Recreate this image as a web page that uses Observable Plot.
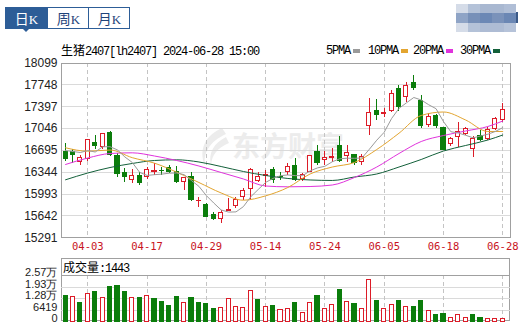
<!DOCTYPE html>
<html><head><meta charset="utf-8">
<script src="https://cdn.jsdelivr.net/npm/d3@7"></script>
<script src="https://cdn.jsdelivr.net/npm/@observablehq/plot@0.6"></script>
<style>
body{margin:0;background:#fff;}
#wrap{position:relative;width:520px;height:327px;overflow:hidden;background:#fff;font-family:"Liberation Sans",Arial,sans-serif;}
.abs{position:absolute;}
.mono{font-family:"Liberation Mono","DejaVu Sans Mono",monospace;font-size:12px;letter-spacing:-1.2px;line-height:14px;white-space:pre;color:#000;}
.cjk{font-family:"Noto Sans CJK SC",sans-serif;letter-spacing:0;font-size:12px;}
.tab{position:absolute;top:0;height:20px;width:41px;text-align:center;line-height:20px;font-size:14px;font-family:"Noto Sans CJK SC",sans-serif;color:#1f437a;}
.tab b{font-family:"Liberation Serif",serif;font-weight:normal;font-size:13px;}
.sw{position:absolute;height:4px;width:7px;}
</style></head>
<body>
<div id="wrap">
  <!-- watermark -->
  <svg class="abs" style="left:196px;top:127px" width="34" height="40" viewBox="0 0 34 40">
    <path d="M26 1 C10 8 2 22 9 39 C7 26 13 15 30 7 Z" fill="#ececec"/>
    <path d="M30 10 C18 16 12 26 15 38 C16 28 21 21 33 16 Z" fill="#ececec"/>
  </svg>
  <div class="abs" style="left:232px;top:128px;font:bold 28px 'Noto Sans CJK SC',sans-serif;color:#ececec;line-height:34px;letter-spacing:0px;">东方财富</div>

  <div id="main" class="abs" style="left:0;top:0"></div>
  <div class="abs" style="left:61px;top:258px;width:449px;height:63px;border:1px solid #a0a0a0;box-sizing:border-box;"></div>
  <div id="vol" class="abs" style="left:0;top:255px"></div>

  <!-- tabs -->
  <div class="abs" style="left:5px;top:7px;width:123px;height:20px;border:1px solid #2d5d97;box-sizing:content-box;">
    <div class="tab" style="left:0;background:#2d5d97;color:#fff;">日<b>K</b></div>
    <div class="tab" style="left:41px;border-left:1px solid #2d5d97;">周<b>K</b></div>
    <div class="tab" style="left:82px;border-left:1px solid #2d5d97;">月<b>K</b></div>
  </div>
  <div class="abs" style="left:22px;top:28px;width:0;height:0;border-left:4px solid transparent;border-right:4px solid transparent;border-top:4px solid #2d5d97;"></div>

  <!-- blurred logo -->
  <div class="abs" id="blur" style="left:456px;top:4px;width:60px;height:28px;"></div>
  <div class="abs" style="left:516px;top:12px;width:2px;height:11px;background:#3c5a88;"></div>

  <div class="abs mono" style="left:61px;top:43px;"><span class="cjk">生猪</span>2407[lh2407] 2024-06-28 15:00</div>
  <div id="legend"></div>
  <div class="abs mono" style="left:63px;top:260px;"><span class="cjk">成交量</span>:1443</div>
</div>
<script>
const dates = ["03-29","04-01","04-02","04-03","04-08","04-09","04-10","04-11","04-12","04-15","04-16","04-17","04-18","04-19","04-22","04-23","04-24","04-25","04-26","04-29","04-30","05-06","05-07","05-08","05-09","05-10","05-13","05-14","05-15","05-16","05-17","05-20","05-21","05-22","05-23","05-24","05-27","05-28","05-29","05-30","05-31","06-03","06-04","06-05","06-06","06-07","06-11","06-12","06-13","06-14","06-17","06-18","06-19","06-20","06-21","06-24","06-25","06-26","06-27","06-28"];
const tickDates = ["04-03","04-17","04-29","05-14","05-24","06-05","06-18","06-28"];
const open  = [16675,16675,16510,16555,16815,16745,16980,16600,16330,16225,16290,16275,16350,16370,16415,16355,16190,16275,15875,15825,15665,15585,15715,15800,15945,16080,16210,16285,16385,16275,16340,16450,16235,16355,16670,16540,16580,16770,16610,16615,16510,17090,17320,17280,17330,17675,17560,17775,17490,17105,17240,17055,16805,16915,16965,16720,16925,16880,17035,17180];
const high  = [16800,16710,16620,16865,16940,16970,17000,16640,16400,16385,16345,16425,16490,16425,16450,16430,16265,16340,15945,15840,15700,15730,15915,15945,16080,16405,16345,16365,16425,16345,16480,16565,16330,16620,16775,16675,16725,16920,16780,16630,16630,17530,17520,17365,17655,17730,17785,17900,17575,17290,17275,17065,16910,17150,17065,16920,17010,17065,17225,17455];
const low   = [16520,16485,16445,16510,16705,16705,16595,16265,16185,16170,16125,16225,16290,16290,16320,16160,16050,15880,15785,15610,15570,15520,15710,15755,15890,15905,16185,16105,16160,16210,16290,16200,16190,16350,16450,16450,16500,16500,16500,16460,16460,16935,17180,17225,17305,17320,17465,17650,17045,17065,17045,16690,16750,16745,16930,16580,16840,16850,17015,17140];
const close = [16550,16615,16575,16855,16760,16960,16625,16320,16275,16290,16170,16385,16370,16360,16350,16185,16250,15900,15890,15620,15585,15695,15730,15905,16050,16375,16275,16300,16225,16265,16435,16225,16300,16610,16500,16565,16595,16530,16660,16495,16590,17290,17265,17295,17600,17400,17735,17695,17090,17225,17080,16705,16880,16985,17040,16880,16855,17025,17200,17345];
const volume = [14510,13950,10600,15460,16190,12840,18980,19540,16190,13230,12840,14340,12450,11160,8930,13400,10440,12840,10210,9490,6700,7650,12280,8210,7810,16750,11890,8370,8930,6140,7090,10440,4860,10440,14510,7090,9320,17860,11160,9880,7090,23440,11720,7090,9320,11720,8370,8370,11720,5970,3350,3910,2230,3740,2230,3350,1840,1200,1300,1443];
const ma5 = [16693,16677,16661,16693,16669,16753,16754,16703,16590,16501,16342,16293,16305,16314,16329,16332,16305,16210,16117,15969,15850,15738,15704,15707,15792,15951,16067,16181,16245,16289,16301,16290,16290,16366,16414,16440,16513,16560,16570,16568,16574,16713,16859,16986,17207,17370,17458,17545,17505,17429,17365,17159,16995,16975,16938,16897,16926,16955,16999,17060];
const maDays = [0,3,6,9,12,15,18,21,24,27,30,33,36,39,42,45,48,51,54,57,59];
const ma10 = [16737,16682,16701,16578,16490,16345,16179,16011,15895,15965,16099,16316,16428,16501,16709,16971,17256,17312,17183,16999,16999];
const ma20 = [16469,16573,16645,16656,16605,16533,16444,16340,16236,16123,16110,16115,16139,16260,16428,16645,16838,16934,17007,17079,17167];
const ma30 = [16223,16332,16420,16485,16533,16544,16509,16436,16356,16292,16244,16220,16212,16268,16316,16428,16549,16685,16774,16862,16942];
const priceTicks = [15291,15642,15993,16344,16695,17046,17397,17748,18099];
const volTicks = [0,6419,12838,19257,25676];
const volLabels = ["0","6419","1.28万","1.93万","2.57万"];
const legendNames = ["5PMA","10PMA","20PMA","30PMA"];

const RED = "#dc1c28", GREEN = "#0b7d0b";
const MA_COLORS = ["#9a9a9a","#e3a530","#e033dc","#13603a"];
const idx = d3.range(dates.length);
const tickIdx = tickDates.map(d => dates.indexOf(d));
const cand = idx.map(i => ({i, o: open[i], h: high[i], l: low[i], c: close[i]}));
const upC = cand.filter(d => d.c >= d.o), dnC = cand.filter(d => d.c < d.o);
const bw = 0.28;
const xDom = [-0.55, 60.05];
const maLine = (arr, days) => arr.map((v, k) => ({i: days ? days[k] : k, v}));

const main = Plot.plot({
  width: 520, height: 255,
  marginLeft: 61, marginRight: 10, marginTop: 62.5, marginBottom: 17.7,
  x: {type: "linear", domain: xDom, axis: null, label: null},
  y: {domain: [15291, 18099], axis: null, label: null},
  style: {background: "transparent", overflow: "visible"},
  marks: [
    Plot.ruleY(priceTicks, {stroke: "#dadada", shapeRendering: "crispEdges"}),
    Plot.ruleX(tickIdx, {stroke: "#c4c4c4", strokeDasharray: "4,3", shapeRendering: "crispEdges"}),
    Plot.ruleX(upC, {x: "i", y1: "l", y2: "h", stroke: RED, shapeRendering: "crispEdges"}),
    Plot.ruleX(dnC, {x: "i", y1: "l", y2: "h", stroke: GREEN, shapeRendering: "crispEdges"}),
    Plot.rect(upC, {x1: d => d.i - bw, x2: d => d.i + bw, y1: "o", y2: "c", fill: "white", stroke: RED, shapeRendering: "crispEdges"}),
    Plot.rect(dnC, {x1: d => d.i - bw, x2: d => d.i + bw, y1: "o", y2: "c", fill: GREEN, stroke: GREEN, shapeRendering: "crispEdges"}),
    Plot.line(maLine(ma30, maDays), {x: "i", y: "v", stroke: MA_COLORS[3], strokeWidth: 1, curve: "monotone-x"}),
    Plot.line(maLine(ma20, maDays), {x: "i", y: "v", stroke: MA_COLORS[2], strokeWidth: 1, curve: "monotone-x"}),
    Plot.line(maLine(ma10, maDays), {x: "i", y: "v", stroke: MA_COLORS[1], strokeWidth: 1, curve: "monotone-x"}),
    Plot.line(maLine(ma5), {x: "i", y: "v", stroke: MA_COLORS[0], strokeWidth: 1}),
    Plot.frame({stroke: "#a0a0a0", shapeRendering: "crispEdges"}),
    Plot.axisY(priceTicks, {label: null, tickSize: 0, tickPadding: 4, fontSize: 12, fontFamily: "'Liberation Sans',Arial,sans-serif", fill: "#222", tickFormat: d => String(d)}),
    Plot.axisX(tickIdx, {label: null, tickSize: 0, tickPadding: 5, fontSize: 10.5, fontFamily: "'DejaVu Sans Mono',monospace", fill: "#c8141e", tickFormat: d => dates[d]})
  ]
});
document.getElementById("main").appendChild(main);

const volUp = idx.map(i => i === 0 ? close[0] >= open[0] : close[i] >= close[i - 1]);
const vUp = idx.filter(i => volUp[i]), vDn = idx.filter(i => !volUp[i]);
const vol = Plot.plot({
  width: 520, height: 72,
  marginLeft: 61, marginRight: 10, marginTop: 20, marginBottom: 6,
  x: {type: "linear", domain: xDom, axis: null, label: null},
  y: {domain: [0, 25676], axis: null, label: null},
  style: {background: "transparent", overflow: "visible"},
  marks: [
    Plot.ruleY(volTicks.slice(1, 4), {stroke: "#dadada", shapeRendering: "crispEdges"}),
    Plot.ruleX(tickIdx, {stroke: "#c4c4c4", strokeDasharray: "4,3", shapeRendering: "crispEdges"}),
    Plot.ruleY([25676], {stroke: "#a0a0a0", shapeRendering: "crispEdges"}),
    Plot.rect(vUp, {x1: i => i - bw, x2: i => i + bw, y1: 0, y2: i => volume[i], fill: "white", stroke: RED, shapeRendering: "crispEdges"}),
    Plot.rect(vDn, {x1: i => i - bw, x2: i => i + bw, y1: 0, y2: i => volume[i], fill: GREEN, stroke: GREEN, shapeRendering: "crispEdges"}),
    Plot.axisY(volTicks, {label: null, tickSize: 0, tickPadding: 4, dy: -3, fontSize: 11, fontFamily: "'Liberation Sans',Arial,sans-serif", fill: "#222", tickFormat: d => volLabels[volTicks.indexOf(d)]})
  ]
});
document.getElementById("vol").appendChild(vol);

// legend
const legX = [326, 368, 413, 460];
const leg = document.getElementById("legend");
legendNames.forEach((n, k) => {
  const t = document.createElement("div");
  t.className = "abs mono"; t.style.left = legX[k] + "px"; t.style.top = "44px"; t.textContent = n;
  leg.appendChild(t);
  const s = document.createElement("div");
  s.className = "sw"; s.style.left = (legX[k] + n.length * 6 + 3) + "px"; s.style.top = "49px"; s.style.background = MA_COLORS[k];
  leg.appendChild(s);
});

// blurred logo mosaic
const blurCols = [["#d5dce8","#8fa4c6","#d5dce8"],["#b4c2d8","#7790b8","#b4c2d8"],["#a9b8d1","#6c88b5","#aebcd4"],["#a9b8d1","#7a92ba","#aebcd4"],["#b0bed6","#6b87b4","#b6c3d9"]];
const blur = document.getElementById("blur");
const rowsH = [[0,9],[9,10],[19,9]];
blurCols.forEach((col, c) => col.forEach((clr, r) => {
  const b = document.createElement("div");
  b.className = "abs";
  Object.assign(b.style, {left: c * 12 + "px", top: rowsH[r][0] + "px", width: "12px", height: rowsH[r][1] + "px", background: clr});
  blur.appendChild(b);
}));
</script>
</body></html>
